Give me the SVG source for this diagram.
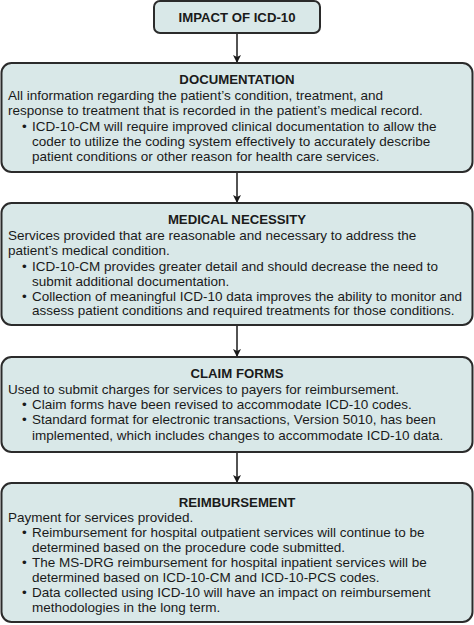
<svg xmlns="http://www.w3.org/2000/svg" width="474" height="625" viewBox="0 0 474 625">
<defs>
<style>
.box{fill:#d9e8e8;stroke:#2b2b2b;stroke-width:2}
.t{font-family:"Liberation Sans",Arial,sans-serif;font-size:13.5px;fill:#1a1a1a}
.h{font-family:"Liberation Sans",Arial,sans-serif;font-size:13.2px;font-weight:bold;fill:#1a1a1a;text-anchor:middle}
.c{stroke:#1a1a1a;stroke-width:1.5;fill:none;marker-end:url(#ah)}
</style>
<marker id="ah" viewBox="0 0 8 12" refX="8" refY="6" markerWidth="8" markerHeight="12" markerUnits="userSpaceOnUse" orient="auto">
<path d="M0,2 L8,6 L0,10 L2,6 Z" fill="#1a1a1a" transform="rotate(0)"/>
</marker>
</defs>
<rect width="474" height="625" fill="#ffffff"/>
<g id="connectors">
<line class="c" x1="237" y1="33" x2="237" y2="63"/>
<line class="c" x1="237" y1="172" x2="237" y2="203"/>
<line class="c" x1="237" y1="325" x2="237" y2="357"/>
<line class="c" x1="237" y1="452" x2="237" y2="483"/>
</g>
<g id="impact">
<rect class="box" x="154" y="1" width="166" height="32" rx="6"/>
<text class="h" x="237" y="22">IMPACT OF ICD-10</text>
</g>
<g id="documentation">
<rect class="box" x="1.5" y="63" width="471" height="109" rx="10"/>
<text class="h" x="237" y="84">DOCUMENTATION</text>
<text class="t" x="8" y="100">All information regarding the patient’s condition, treatment, and</text>
<text class="t" x="8" y="115">response to treatment that is recorded in the patient’s medical record.</text>
<text class="t" x="22" y="131">•</text>
<text class="t" x="32" y="131">ICD-10-CM will require improved clinical documentation to allow the</text>
<text class="t" x="32" y="146">coder to utilize the coding system effectively to accurately describe</text>
<text class="t" x="32" y="161">patient conditions or other reason for health care services.</text>
</g>
<g id="medical-necessity">
<rect class="box" x="1.5" y="203" width="471" height="122" rx="10"/>
<text class="h" x="237" y="224">MEDICAL NECESSITY</text>
<text class="t" x="8" y="240">Services provided that are reasonable and necessary to address the</text>
<text class="t" x="8" y="255">patient’s medical condition.</text>
<text class="t" x="22" y="271">•</text>
<text class="t" x="32" y="271">ICD-10-CM provides greater detail and should decrease the need to</text>
<text class="t" x="32" y="286">submit additional documentation.</text>
<text class="t" x="22" y="301">•</text>
<text class="t" x="32" y="301">Collection of meaningful ICD-10 data improves the ability to monitor and</text>
<text class="t" x="32" y="315">assess patient conditions and required treatments for those conditions.</text>
</g>
<g id="claim-forms">
<rect class="box" x="1.5" y="357" width="471" height="95" rx="10"/>
<text class="h" x="237" y="378">CLAIM FORMS</text>
<text class="t" x="8" y="394">Used to submit charges for services to payers for reimbursement.</text>
<text class="t" x="22" y="409">•</text>
<text class="t" x="32" y="409">Claim forms have been revised to accommodate ICD-10 codes.</text>
<text class="t" x="22" y="424">•</text>
<text class="t" x="32" y="424">Standard format for electronic transactions, Version 5010, has been</text>
<text class="t" x="32" y="440">implemented, which includes changes to accommodate ICD-10 data.</text>
</g>
<g id="reimbursement">
<rect class="box" x="1.5" y="483" width="471" height="139" rx="10"/>
<text class="h" x="237" y="507">REIMBURSEMENT</text>
<text class="t" x="8" y="522">Payment for services provided.</text>
<text class="t" x="22" y="537">•</text>
<text class="t" x="32" y="537">Reimbursement for hospital outpatient services will continue to be</text>
<text class="t" x="32" y="552">determined based on the procedure code submitted.</text>
<text class="t" x="22" y="567">•</text>
<text class="t" x="32" y="567">The MS-DRG reimbursement for hospital inpatient services will be</text>
<text class="t" x="32" y="582">determined based on ICD-10-CM and ICD-10-PCS codes.</text>
<text class="t" x="22" y="597">•</text>
<text class="t" x="32" y="597">Data collected using ICD-10 will have an impact on reimbursement</text>
<text class="t" x="32" y="612">methodologies in the long term.</text>
</g>
</svg>
